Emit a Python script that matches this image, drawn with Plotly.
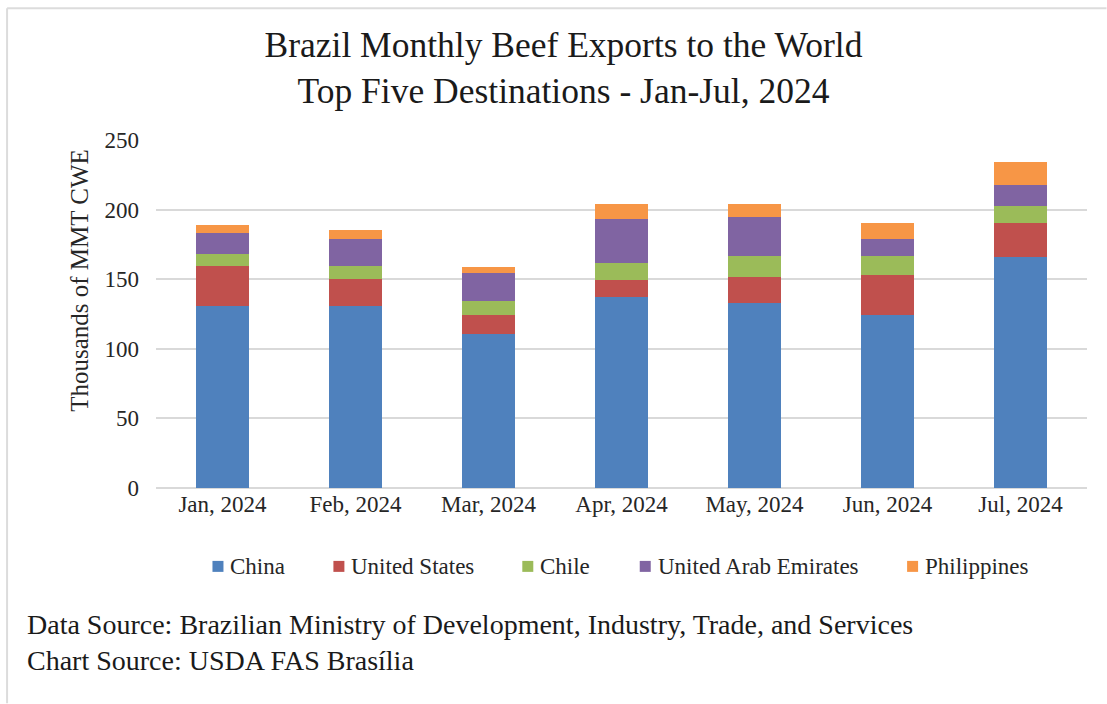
import plotly.graph_objects as go

months = ["Jan, 2024", "Feb, 2024", "Mar, 2024", "Apr, 2024", "May, 2024", "Jun, 2024", "Jul, 2024"]

china = [131.1, 131.1, 110.6, 136.9, 132.9, 124.5, 165.6]
united_states = [28.7, 19.2, 13.6, 12.2, 18.8, 28.7, 24.6]
chile = [8.2, 9.5, 9.8, 12.2, 15.3, 13.8, 12.2]
uae = [15.1, 19.4, 20.5, 31.8, 27.5, 12.2, 15.3]
philippines = [5.7, 5.8, 4.5, 11.0, 9.6, 11.0, 16.5]

series = [
    ("China", china, "#4F81BD"),
    ("United States", united_states, "#C0504D"),
    ("Chile", chile, "#9BBB59"),
    ("United Arab Emirates", uae, "#8064A2"),
    ("Philippines", philippines, "#F79646"),
]

FONT = "Liberation Serif, Times New Roman, serif"
TEXT = "#262626"

fig = go.Figure()
for name, vals, color in series:
    fig.add_trace(go.Bar(
        x=months, y=vals, name=name, showlegend=False,
        marker=dict(color=color, line=dict(width=0)),
    ))

W, H = 1107, 704
L, R, T, B = 156, 19.5, 140, 215.5
pw, ph = W - L - R, H - T - B


def px_x(x):
    return (x - L) / pw


def px_y(y):
    return (H - B - y) / ph


# legend row drawn under the axis: swatch centre x for each entry
legend_x = [218, 339, 528, 645.5, 913]
legend_y = 567
sw = 5.5

shapes = [
    dict(type="line", xref="paper", yref="paper",
         x0=px_x(7), x1=px_x(7), y0=px_y(704), y1=px_y(8),
         line=dict(color="#dcdcdc", width=2)),
    dict(type="line", xref="paper", yref="paper",
         x0=px_x(7), x1=px_x(1107), y0=px_y(8), y1=px_y(8),
         line=dict(color="#dcdcdc", width=2)),
]
annotations = [
    dict(
        text="Data Source: Brazilian Ministry of Development, Industry, Trade, and Services<br>Chart Source: USDA FAS Brasília",
        xref="paper", yref="paper", x=px_x(25), y=px_y(643),
        xanchor="left", yanchor="middle", align="left", showarrow=False,
        font=dict(family=FONT, size=28, color="#1a1a1a"),
    ),
    dict(
        text="Thousands of MMT CWE", textangle=-90,
        xref="paper", yref="paper", x=px_x(80), y=px_y(281),
        xanchor="center", yanchor="middle", showarrow=False,
        font=dict(family=FONT, size=25, color=TEXT),
    ),
]
for (name, _, color), cx in zip(series, legend_x):
    shapes.append(dict(
        type="rect", xref="paper", yref="paper",
        x0=px_x(cx - sw), x1=px_x(cx + sw),
        y0=px_y(legend_y + sw), y1=px_y(legend_y - sw),
        fillcolor=color, line=dict(width=0),
    ))
    annotations.append(dict(
        text=name, xref="paper", yref="paper",
        x=px_x(cx + sw + 5), y=px_y(legend_y),
        xanchor="left", yanchor="middle", showarrow=False,
        font=dict(family=FONT, size=23, color=TEXT),
    ))

fig.update_layout(
    width=W, height=H,
    barmode="stack", bargap=0.6,
    margin=dict(l=L, r=R, t=T, b=B),
    paper_bgcolor="white", plot_bgcolor="white",
    font=dict(family=FONT, color=TEXT, size=23),
    showlegend=False,
    title=dict(
        text="Brazil Monthly Beef Exports to the World<br>Top Five Destinations - Jan-Jul, 2024",
        x=0.509, xanchor="center", xref="container",
        y=1 - 57 / H, yanchor="middle", yref="container",
        font=dict(family=FONT, size=35.5, color="#1a1a1a"),
    ),
    xaxis=dict(
        showgrid=False, showline=False, ticks="",
        tickfont=dict(size=23),
    ),
    yaxis=dict(
        range=[0, 250], tickvals=[0, 50, 100, 150, 200, 250],
        showgrid=True, gridcolor="#d9d9d9", gridwidth=1.5,
        zeroline=True, zerolinecolor="#d9d9d9", zerolinewidth=1.5,
        showline=False, ticks="", ticklabelstandoff=16,
        tickfont=dict(size=23),
    ),
    annotations=annotations,
    shapes=shapes,
)

fig.write_html("out.html")
